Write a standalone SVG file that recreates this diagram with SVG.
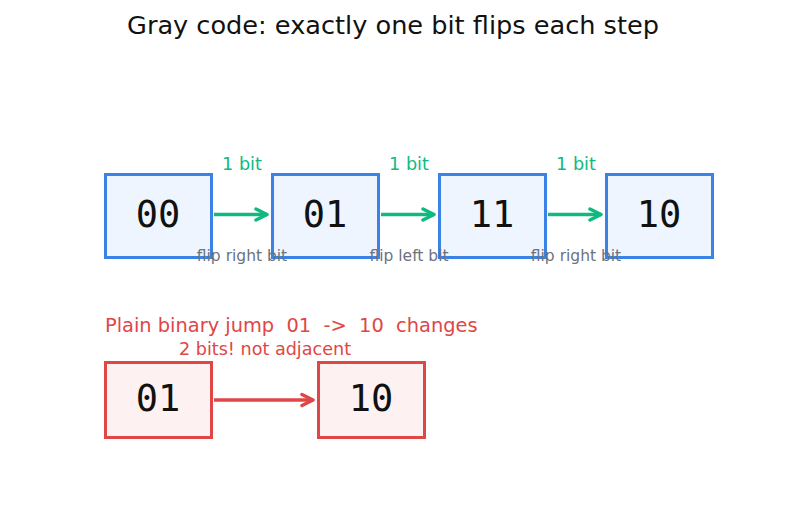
<svg xmlns="http://www.w3.org/2000/svg" width="787" height="512" viewBox="0 0 787 512">
<style>
.title{font-family:"DejaVu Sans",sans-serif;font-size:25.6px;fill:#111;text-anchor:middle}
.g rect{fill:#eef5fe;stroke:#3b82e6;stroke-width:3}
.r rect{fill:#fdf1f1;stroke:#e04646;stroke-width:3}
.d{font-family:"DejaVu Sans Mono",monospace;font-size:37px;fill:#111;text-anchor:middle}
.lb{font-family:"DejaVu Sans",sans-serif;font-size:17.7px;fill:#10b981;text-anchor:middle}
.sub{font-family:"DejaVu Sans",sans-serif;font-size:15.5px;fill:#6b7280;text-anchor:middle}
.rt{font-family:"DejaVu Sans",sans-serif;fill:#e04646}
.ga{stroke:#10b981;stroke-width:3.5;fill:none;marker-end:url(#ag)}
.ra{stroke:#e04646;stroke-width:3.5;fill:none;marker-end:url(#ar)}
</style>
<defs>
<marker id="ag" markerWidth="16" markerHeight="16" refX="13" refY="8" orient="auto" markerUnits="userSpaceOnUse"><path d="M2,2.5 L13,8 L2,13.5" fill="none" stroke="#10b981" stroke-width="3.5" stroke-linejoin="round" stroke-linecap="round"/></marker>
<marker id="ar" markerWidth="16" markerHeight="16" refX="13" refY="8" orient="auto" markerUnits="userSpaceOnUse"><path d="M2,2.5 L13,8 L2,13.5" fill="none" stroke="#e04646" stroke-width="3.5" stroke-linejoin="round" stroke-linecap="round"/></marker>
</defs>
<rect width="787" height="512" fill="#fff"/>
<text class="title" x="393" y="34">Gray code: exactly one bit flips each step</text>
<g id="n00" class="g"><rect x="105.5" y="174.5" width="106" height="83"/><text class="d" x="158" y="227">00</text></g>
<g id="n01" class="g"><rect x="272.5" y="174.5" width="106" height="83"/><text class="d" x="325" y="227">01</text></g>
<g id="n11" class="g"><rect x="439.5" y="174.5" width="106" height="83"/><text class="d" x="492" y="227">11</text></g>
<g id="n10" class="g"><rect x="606.5" y="174.5" width="106" height="83"/><text class="d" x="659" y="227">10</text></g>
<g id="b01" class="r"><rect x="105.5" y="362.5" width="106" height="75"/><text class="d" x="158" y="411">01</text></g>
<g id="b10" class="r"><rect x="318.5" y="362.5" width="106" height="75"/><text class="d" x="371" y="411">10</text></g>
<g id="connectors">
<path class="ga" d="M214,214.5 H267"/>
<path class="ga" d="M381,214.5 H434"/>
<path class="ga" d="M548,214.5 H601"/>
<path class="ra" d="M214,400 H313"/>
</g>
<text class="lb" x="242" y="170">1 bit</text>
<text class="lb" x="409" y="170">1 bit</text>
<text class="lb" x="576" y="170">1 bit</text>
<text class="sub" x="242" y="261">flip right bit</text>
<text class="sub" x="409" y="261">flip left bit</text>
<text class="sub" x="576" y="261">flip right bit</text>
<text class="rt" x="105" y="332" font-size="19.4" xml:space="preserve">Plain binary jump  01  -&gt;  10  changes</text>
<text class="rt" x="265" y="355" font-size="17.6" text-anchor="middle">2 bits! not adjacent</text>
</svg>
